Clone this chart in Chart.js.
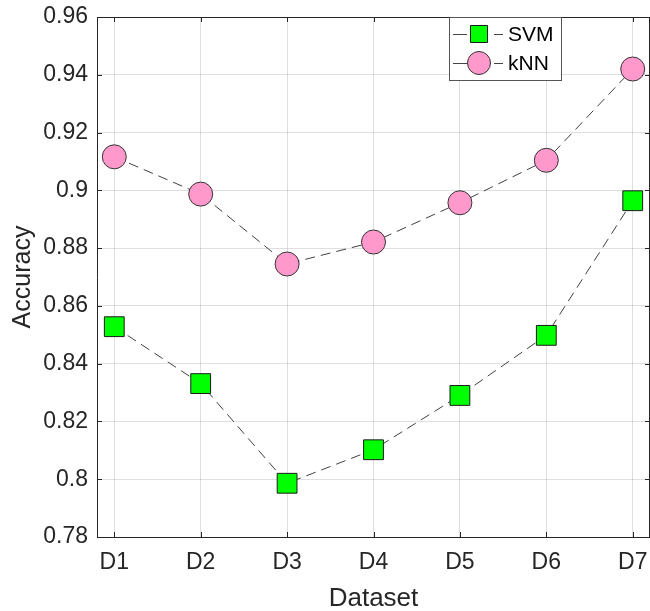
<!DOCTYPE html>
<html>
<head>
<meta charset="utf-8">
<script src="https://cdn.jsdelivr.net/npm/chart.js@4"></script>
<style>
  html, body { margin: 0; padding: 0; background: #fff; overflow: hidden; }
  #wrap { width: 650px; height: 611px; }
</style>
</head>
<body>
<div id="wrap"><canvas id="accuracy-chart"></canvas></div>
<script>
// Data
const datasetNames = ['D1', 'D2', 'D3', 'D4', 'D5', 'D6', 'D7'];
const svmAcc = [0.8528, 0.8331, 0.7986, 0.8102, 0.8290, 0.8498, 0.8964];
const knnAcc = [0.9116, 0.8987, 0.8745, 0.8821, 0.8957, 0.9104, 0.9420];
const yTicks = [0.78, 0.80, 0.82, 0.84, 0.86, 0.88, 0.90, 0.92, 0.94, 0.96];

const FONT = '"Liberation Sans", Arial, sans-serif';
const INK = '#262626';
const toPoints = (arr) => arr.map((v, i) => ({ x: i + 1, y: v }));

// Box around the axes, inward ticks and the legend (MATLAB look)
const axisBox = {
    id: 'axisBox',
    afterDraw(chart) {
        const { ctx, chartArea: a, scales: { x, y } } = chart;
        ctx.save();
        ctx.strokeStyle = INK;
        ctx.lineWidth = 1;
        ctx.beginPath();
        ctx.moveTo(a.left, a.top + 0.5);
        ctx.lineTo(a.right, a.top + 0.5);
        ctx.moveTo(a.right - 0.5, a.top);
        ctx.lineTo(a.right - 0.5, a.bottom);
        x.ticks.forEach(t => {
            const px = Math.round(x.getPixelForValue(t.value)) + 0.5;
            ctx.moveTo(px, a.bottom); ctx.lineTo(px, a.bottom - 5);
            ctx.moveTo(px, a.top); ctx.lineTo(px, a.top + 5);
        });
        y.ticks.forEach(t => {
            const py = Math.round(y.getPixelForValue(t.value)) + 0.5;
            ctx.moveTo(a.left, py); ctx.lineTo(a.left + 5, py);
            ctx.moveTo(a.right, py); ctx.lineTo(a.right - 5, py);
        });
        ctx.stroke();

        // legend
        const lx = 449, ly = 17, lw = 112, lh = 63;
        ctx.fillStyle = '#fff';
        ctx.fillRect(lx, ly, lw, lh);
        ctx.strokeStyle = '#555';
        ctx.strokeRect(lx + 0.5, ly + 0.5, lw, lh);
        ctx.font = '21px ' + FONT;
        ctx.textBaseline = 'middle';
        chart.data.datasets.forEach((ds, i) => {
            const cy = ly + 17 + i * 29;
            const mx = lx + 30;
            ctx.strokeStyle = '#444';
            ctx.lineWidth = 1;
            ctx.beginPath();
            ctx.moveTo(lx + 4, cy + 0.5); ctx.lineTo(lx + 18, cy + 0.5);
            ctx.moveTo(lx + 45, cy + 0.5); ctx.lineTo(lx + 54, cy + 0.5);
            ctx.stroke();
            ctx.fillStyle = ds.pointBackgroundColor;
            ctx.strokeStyle = ds.pointBorderColor;
            ctx.beginPath();
            if (ds.pointStyle === 'rect') {
                ctx.rect(mx - 8.5, cy - 8.5, 17, 17);
            } else {
                ctx.arc(mx, cy, 11.5, 0, Math.PI * 2);
            }
            ctx.fill();
            ctx.stroke();
            ctx.fillStyle = '#000';
            ctx.fillText(ds.label, lx + 59, cy + 1);
        });
        ctx.restore();
    }
};

const ctx = document.getElementById('accuracy-chart').getContext('2d');

const accuracyChart = new Chart(ctx, {
    type: 'line',
    data: {
        datasets: [{
            label: 'SVM',
            data: toPoints(svmAcc),
            borderColor: '#404040',
            borderWidth: 1,
            borderDash: [10, 6],
            pointStyle: 'rect',
            pointRadius: 14,
            pointBackgroundColor: '#00ff00',
            pointBorderColor: '#1a1a1a',
            pointBorderWidth: 1,
            clip: false,
        }, {
            label: 'kNN',
            data: toPoints(knnAcc),
            borderColor: '#404040',
            borderWidth: 1,
            borderDash: [10, 6],
            pointStyle: 'circle',
            pointRadius: 12,
            pointBackgroundColor: '#ff99cc',
            pointBorderColor: '#333333',
            pointBorderWidth: 1,
            clip: false,
        }]
    },
    options: {
        responsive: true,
        maintainAspectRatio: false,
        animation: false,
        layout: { autoPadding: false, padding: { top: 17, right: 0, left: 0, bottom: 0 } },
        plugins: {
            legend: { display: false },
            tooltip: { enabled: false }
        },
        scales: {
            x: {
                type: 'linear',
                bounds: 'data',
                min: 0.8,
                max: 7.2,
                afterBuildTicks: (axis) => { axis.ticks = datasetNames.map((_, i) => ({ value: i + 1 })); },
                afterFit: (axis) => {
                    axis.height = 74;
                    axis.paddingLeft = 0;
                    axis.paddingRight = 0;
                },
                ticks: {
                    callback: (v) => datasetNames[Math.round(v) - 1],
                    color: INK,
                    font: { family: FONT, size: 23 },
                    padding: 12,
                    maxRotation: 0,
                },
                grid: { color: 'rgba(38,38,38,0.15)', drawTicks: false },
                border: { color: INK, width: 1 },
                title: {
                    display: true,
                    text: 'Dataset',
                    color: INK,
                    font: { family: FONT, size: 26 },
                    padding: { top: 0, bottom: -3 },
                }
            },
            y: {
                bounds: 'data',
                min: 0.78,
                max: 0.96,
                afterBuildTicks: (axis) => { axis.ticks = yTicks.map(v => ({ value: v })); },
                afterFit: (axis) => {
                    axis.width = 97;
                    axis.paddingTop = 0;
                    axis.paddingBottom = 0;
                },
                ticks: {
                    callback: (v) => String(Number(v.toFixed(2))),
                    color: INK,
                    font: { family: FONT, size: 23 },
                    padding: 9,
                },
                grid: { color: 'rgba(38,38,38,0.15)', drawTicks: false },
                border: { color: INK, width: 1 },
                title: {
                    display: true,
                    text: 'Accuracy',
                    color: INK,
                    font: { family: FONT, size: 25 },
                    padding: { top: 8, bottom: 0 },
                }
            }
        }
    },
    plugins: [axisBox]
});
</script>
</body>
</html>
